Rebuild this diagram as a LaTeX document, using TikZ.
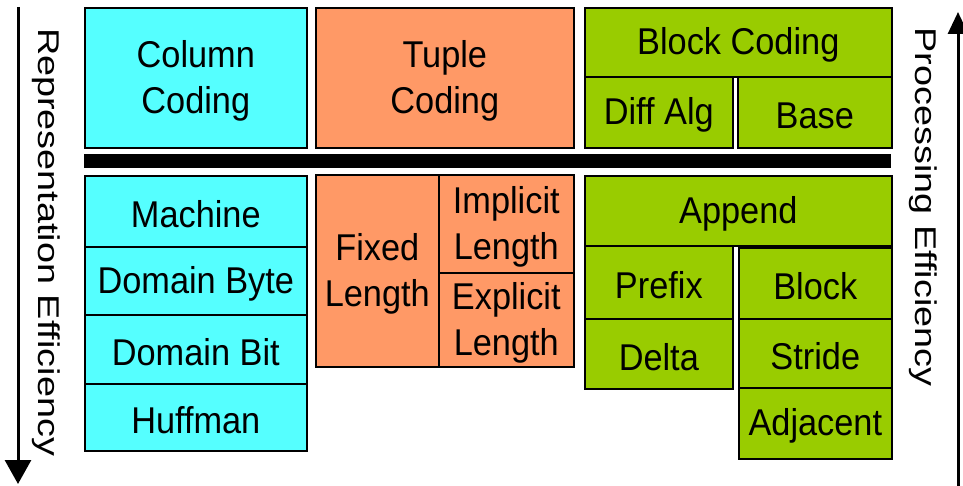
\documentclass[tikz,border=0pt]{standalone}
\usepackage{fontspec}
\setmainfont{Liberation Sans}[FakeStretch=0.92]
\newfontfamily\axisfont{Liberation Sans}[FakeStretch=1.26]
\usetikzlibrary{arrows.meta}
\definecolor{ccyan}{RGB}{85,255,255}
\definecolor{corange}{RGB}{255,153,102}
\definecolor{cgreen}{RGB}{153,204,0}
\newcommand{\cellstrut}{\rule{0pt}{33pt}}
\tikzset{
  cell/.style={draw=black, line width=1.6pt, anchor=north west, inner sep=0pt, align=center,
    font=\fontsize{37.3}{46}\selectfont},
  axislabel/.style={rotate=-90, anchor=base, font=\axisfont\fontsize{30}{36}\selectfont, inner sep=0pt},
  axisarrow/.style={line width=3pt}
}
\begin{document}
\begin{tikzpicture}[x=1pt,y=-1pt]
\useasboundingbox (0,0) rectangle (963,486);
% top row
\node[cell, fill=ccyan, minimum width=222pt, minimum height=140pt] (colcod) at (84,7) {\cellstrut Column\\Coding};
\node[cell, fill=corange, minimum width=258pt, minimum height=140pt] (tupcod) at (315,7) {\cellstrut Tuple\\Coding};
\node[cell, fill=cgreen, minimum width=307pt, minimum height=69pt] (blkcod) at (584,7) {\cellstrut Block Coding};
\node[cell, fill=cgreen, minimum width=148pt, minimum height=71pt] (diffalg) at (584,76) {\cellstrut Diff Alg};
\node[cell, fill=cgreen, minimum width=154pt, minimum height=71pt] (base) at (737,76) {\cellstrut Base};
% bar
\node[fill=black, anchor=north west, inner sep=0pt, minimum width=807pt, minimum height=14pt] (bar) at (84,154) {};
% cyan column
\node[cell, fill=ccyan, minimum width=222pt, minimum height=71pt] (machine) at (84,175) {\cellstrut Machine};
\node[cell, fill=ccyan, minimum width=222pt, minimum height=68pt] (dbyte) at (84,246) {\cellstrut Domain Byte};
\node[cell, fill=ccyan, minimum width=222pt, minimum height=69pt] (dbit) at (84,314) {\cellstrut Domain Bit};
\node[cell, fill=ccyan, minimum width=222pt, minimum height=67pt] (huff) at (84,383) {\cellstrut Huffman};
% orange column
\node[cell, fill=corange, minimum width=123pt, minimum height=192pt] (fixed) at (315,174) {\cellstrut Fixed\\Length};
\node[cell, fill=corange, minimum width=135pt, minimum height=98pt] (impl) at (438,174) {\cellstrut Implicit\\Length};
\node[cell, fill=corange, minimum width=135pt, minimum height=94pt] (expl) at (438,272) {\cellstrut Explicit\\Length};
% green column
\node[cell, fill=cgreen, minimum width=307pt, minimum height=70pt] (append) at (584,175) {\cellstrut Append};
\node[cell, fill=cgreen, minimum width=148pt, minimum height=73pt] (prefix) at (584,245) {\cellstrut Prefix};
\node[cell, fill=cgreen, minimum width=148pt, minimum height=70pt] (delta) at (584,318) {\cellstrut Delta};
\node[cell, fill=cgreen, minimum width=153pt, minimum height=71pt] (block) at (738,247) {\cellstrut Block};
\node[cell, fill=cgreen, minimum width=153pt, minimum height=69pt] (stride) at (738,318) {\cellstrut Stride};
\node[cell, fill=cgreen, minimum width=153pt, minimum height=71pt] (adj) at (738,387) {\cellstrut Adjacent};
% axes
\coordinate (ltop) at (18,7);
\coordinate (lbot) at (18,484);
\draw[axisarrow, -{Triangle[width=26pt,length=24pt]}] (ltop) -- (lbot);
\node[axislabel] (replabel) at (38,242) {Representation Efficiency};
\coordinate (rbot) at (958,486);
\coordinate (rtop) at (958,12);
\draw[axisarrow, -{Triangle[width=20pt,length=22pt]}] (rbot) -- (rtop);
\node[axislabel] (proclabel) at (915,207) {Processing Efficiency};
\end{tikzpicture}
\end{document}
